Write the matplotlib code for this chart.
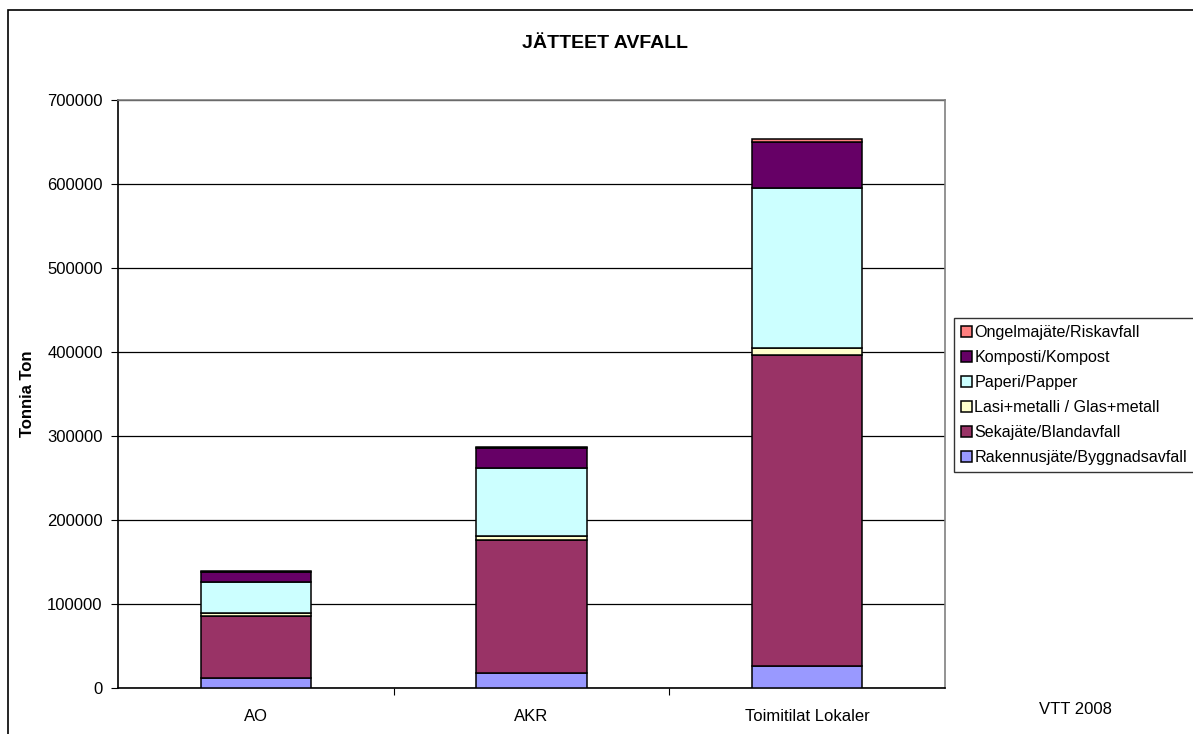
import numpy as np
import matplotlib
matplotlib.use("Agg")
import matplotlib.pyplot as plt
from matplotlib.patches import Rectangle

plt.rcParams['font.family'] = ['Liberation Sans', 'DejaVu Sans']

# Waste amounts (tonnes) per building type
categories = ["AO", "AKR", "Toimitilat Lokaler"]
series_names = [
    "Rakennusjäte/Byggnadsavfall",
    "Sekajäte/Blandavfall",
    "Lasi+metalli / Glas+metall",
    "Paperi/Papper",
    "Komposti/Kompost",
    "Ongelmajäte/Riskavfall",
]
rakennus = [12300, 18200, 26500]
seka = [73700, 158000, 369900]
lasi = [2900, 4800, 8000]
paperi = [37100, 81300, 190500]
komposti = [11700, 23100, 55500]
ongelma = [1300, 1900, 2800]
colors = ["#9999FF", "#993366", "#FFFFCC", "#CCFFFF", "#660066", "#FF8080"]

values = [rakennus, seka, lasi, paperi, komposti, ongelma]

fig = plt.figure(figsize=(11.93, 7.34), dpi=100)
ax = fig.add_axes([118 / 1193, 46 / 734, (945 - 118) / 1193, 588 / 734])

x = np.arange(len(categories))
bottom = np.zeros(len(categories))
handles = []
for name, vals, col in zip(series_names, values, colors):
    b = ax.bar(x, vals, width=0.4, bottom=bottom, color=col, edgecolor="black",
               linewidth=1.1, label=name, zorder=3)
    handles.append(b)
    bottom += np.array(vals)

ax.set_xlim(-0.5, 2.5)
ax.set_ylim(0, 700000)
ax.set_yticks(np.arange(0, 700001, 100000))
ax.set_yticklabels([str(v) for v in range(0, 700001, 100000)], fontsize=12)
ax.yaxis.grid(True, color="black", linewidth=0.9, zorder=0)
ax.set_axisbelow(True)

# category labels between separator ticks
ax.set_xticks([0.5, 1.5], minor=False)
ax.set_xticklabels([])
ax.tick_params(axis="x", length=5, width=0.8, color="black")
ax.set_xticks(x, minor=True)
ax.set_xticklabels(categories, minor=True, fontsize=12)
ax.tick_params(axis="x", which="minor", length=0, pad=15)
ax.tick_params(axis="y", length=5, width=0.8, pad=6)

for side in ["top", "right"]:
    ax.spines[side].set_color("#808080")
    ax.spines[side].set_linewidth(1.2)
for side in ["left", "bottom"]:
    ax.spines[side].set_color("black")
    ax.spines[side].set_linewidth(1.2)

ax.set_ylabel("Tonnia Ton", fontsize=12, fontweight="bold")
ax.yaxis.set_label_coords((35 - 118) / (945 - 118), 0.5)

fig.text(605 / 1193, 1 - 43 / 734, "JÄTTEET AVFALL", ha="center", va="center",
         fontsize=14, fontweight="bold")
fig.text(1075 / 1193, 1 - 709 / 734, "VTT 2008", ha="center", va="center", fontsize=12)

leg = fig.legend(handles[::-1], series_names[::-1], loc="upper left",
                 bbox_to_anchor=(954 / 1193, 1 - 318 / 734), fontsize=11.6,
                 frameon=True, fancybox=False, edgecolor="black",
                 handlelength=0.65, handleheight=0.65, handletextpad=0.15,
                 labelspacing=0.62, borderpad=0.45, borderaxespad=0)
leg.get_frame().set_linewidth(1.0)

# outer chart frame
fig.patches.append(Rectangle((8 / 1193, -0.02), 1.05, 1 - 10 / 734 + 0.02,
                             transform=fig.transFigure, fill=False,
                             edgecolor="black", linewidth=1.2))

fig.savefig("out.png", dpi=100)
